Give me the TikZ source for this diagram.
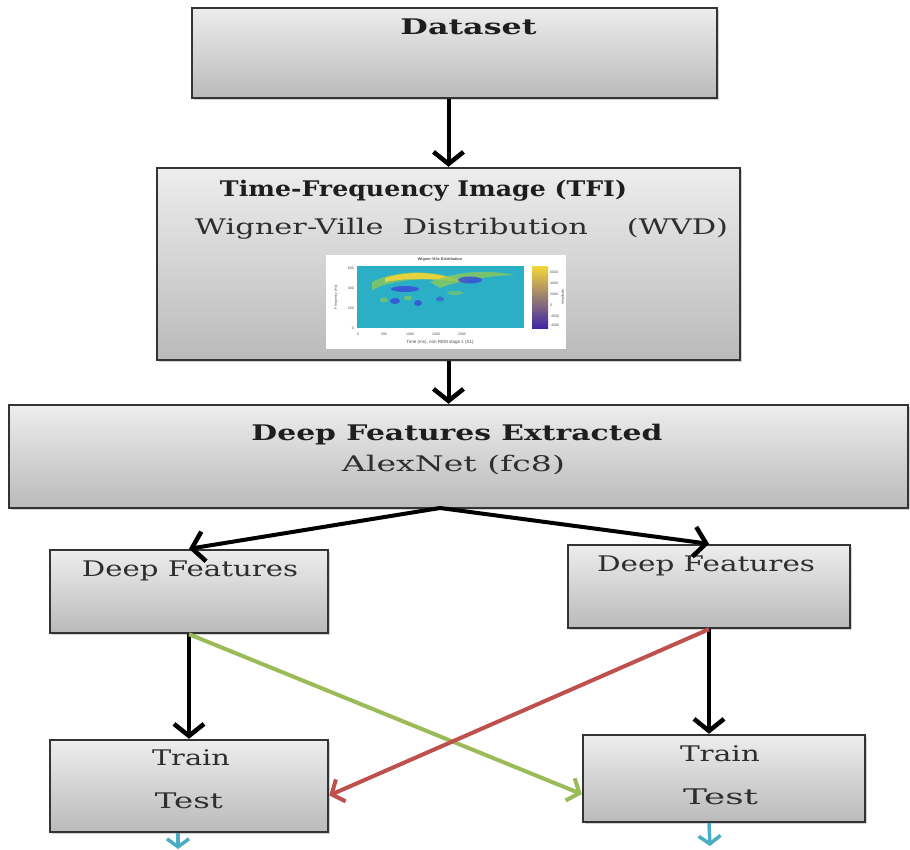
\documentclass[tikz,border=0pt]{standalone}
\usepackage{fontspec}
\usepackage{graphicx}
\setmainfont{DejaVu Serif}
\newfontfamily\camfont{DejaVu Serif}
\newfontfamily\tinyfont{Liberation Sans}
\usetikzlibrary{arrows.meta,shadows,calc}
\newcommand{\wfit}[2]{\resizebox{#1}{\height}{#2}}
\definecolor{txt}{HTML}{1E1E1E}
\definecolor{txtR}{HTML}{2E2E2E}
\definecolor{grnA}{HTML}{9BBB59}
\definecolor{redA}{HTML}{C0504D}
\definecolor{bluA}{HTML}{4BACC6}
\definecolor{parbg}{HTML}{2BAFC6}
\definecolor{parY}{HTML}{F2D43A}
\definecolor{parG}{HTML}{8CC95A}
\definecolor{parB}{HTML}{3A48D8}
\definecolor{parDB}{HTML}{3E26A8}
\tikzset{
  boxA/.style={draw=black!80, line width=2.4pt, top color=white!93!black, bottom color=black!27,
    drop shadow={opacity=0.35, shadow xshift=1.5pt, shadow yshift=-2pt}, inner sep=0pt},
  ttl/.style={font=\camfont\bfseries\fontsize{21.5}{25}\selectfont, text=txt, anchor=base, inner sep=0pt},
  mid/.style={font=\camfont\fontsize{21.5}{25}\selectfont, text=txtR, anchor=base, inner sep=0pt},
  blk/.style={draw=black, line width=4pt, -{Straight Barb[length=12pt,width=30pt,line width=4.5pt]}},
  grnarrow/.style={draw=grnA, line width=4pt, -{Straight Barb[length=10pt,width=24pt,line width=4pt]}},
  redarrow/.style={draw=redA, line width=4pt, -{Straight Barb[length=10pt,width=24pt,line width=4pt]}},
  bluarrow/.style={draw=bluA, line width=3.5pt, -{Straight Barb[length=8pt,width=22pt,line width=3.5pt]}},
  tk/.style={font=\tinyfont\fontsize{3.5}{4}\selectfont, text=black!70, inner sep=0pt},
}
\begin{document}
\begin{tikzpicture}[x=1pt,y=-1pt]
\useasboundingbox (0,0) rectangle (910,850);
% boxes
\node[boxA, minimum width=525pt, minimum height=90pt] (ds) at (454.5,53) {};
\node[boxA, minimum width=583pt, minimum height=192pt] (tfi) at (448.5,264) {};
\node[boxA, minimum width=899pt, minimum height=103pt] (dfe) at (458.5,456.5) {};
\node[boxA, minimum width=278pt, minimum height=83pt] (dfL) at (189,591.5) {};
\node[boxA, minimum width=282pt, minimum height=83pt] (dfR) at (709,586.5) {};
\node[boxA, minimum width=278pt, minimum height=92pt] (ttL) at (189,786) {};
\node[boxA, minimum width=282pt, minimum height=87pt] (ttR) at (724,778.5) {};
% texts
\node[ttl] (dsT) at (468.5,35) {\wfit{136pt}{Dataset}};
\node[ttl] (tfiT) at (423.5,197) {\wfit{407pt}{Time-Frequency Image (TFI)}};
\node[mid] (tfiS) at (461.5,235) {\wfit{533pt}{Wigner-Ville\ \ Distribution\ \ \ \ (WVD)}};
\node[ttl] (dfeT) at (457,440) {\wfit{411pt}{Deep Features Extracted}};
\node[mid] (dfeS) at (453.5,471.5) {\wfit{223pt}{AlexNet (fc8)}};
\node[mid] (dfLT) at (190,576.5) {\wfit{216pt}{Deep Features}};
\node[mid] (dfRT) at (706,571.5) {\wfit{218pt}{Deep Features}};
\node[mid] (ttLa) at (191,765) {\wfit{78pt}{Train}};
\node[mid] (ttLb) at (189,808) {\wfit{68pt}{Test}};
\node[mid] (ttRa) at (720,761.5) {\wfit{80pt}{Train}};
\node[mid] (ttRb) at (720.5,804) {\wfit{75pt}{Test}};
% inset plot
\fill[white] (326,255) rectangle (566,349);
\begin{scope}
\clip (357,266) rectangle (524,328);
\fill[parbg] (357,266) rectangle (524,328);
\fill[parG, opacity=0.8] (372,282) .. controls (400,268) and (440,270) .. (470,284) .. controls (440,278) and (400,276) .. (372,290) -- cycle;
\fill[parY, opacity=0.9] (385,278) .. controls (410,270) and (440,272) .. (462,282) .. controls (440,279) and (410,277) .. (385,282) -- cycle;
\fill[parG, opacity=0.8] (430,282) .. controls (460,270) and (490,270) .. (515,275) .. controls (490,276) and (460,280) .. (440,288) -- cycle;
\fill[parB, opacity=0.8] (470,280) ellipse (12pt and 3.5pt);
\fill[parB, opacity=0.8] (405,289) ellipse (14pt and 3pt);
\fill[parB, opacity=0.8] (395,301) ellipse (5pt and 3pt);
\fill[parB, opacity=0.8] (418,303) ellipse (4pt and 3pt);
\fill[parB, opacity=0.6] (440,299) ellipse (4pt and 2.5pt);
\fill[parG, opacity=0.7] (384,300) ellipse (4pt and 2.5pt);
\fill[parG, opacity=0.7] (408,298) ellipse (4pt and 2.5pt);
\fill[parG, opacity=0.6] (455,293) ellipse (8pt and 2pt);
\end{scope}
\shade[top color=parY, middle color=parbg, bottom color=parDB] (532,267) rectangle (548,328);
\node[tk, font=\tinyfont\bfseries\fontsize{3.8}{4}\selectfont] (plT) at (440,260) {Wigner-Ville Distribution};
\node[tk, font=\tinyfont\fontsize{4.5}{5}\selectfont] (plX) at (440,342) {Time (ms), non REM stage 1 (S1)};
\node[tk, rotate=90] (plY) at (336,297) {Frequency (Hz)};
\node[tk, rotate=90] (plC) at (563,297) {Amplitude};
\foreach \v/\yy [count=\i] in {600/268,400/288,200/308,0/328}{\node[tk, anchor=east] (yt\i) at (354,\yy) {\v};}
\foreach \v/\xx [count=\i] in {0/358,500/384,1000/410,1500/436,2000/462}{\node[tk] (xt\i) at (\xx,334) {\v};}
\foreach \v/\yy [count=\i] in {6000/272,4000/283,2000/294,0/305,-2000/316,-4000/325}{\node[tk, anchor=west] (ct\i) at (550,\yy) {\v};}
% connectors
\draw[blk] (ds.south -| tfi.north) -- (tfi.north);
\draw[blk] (tfi.south) -- (tfi.south |- dfe.north);
\coordinate (split) at (440,508);
\draw[blk] (split) -- (dfL.north);
\draw[blk] (split) -- (dfR.north);
\draw[blk] (dfL.south) -- (dfL.south |- ttL.north);
\draw[blk] (dfR.south) -- (dfR.south |- ttR.north);
\draw[grnarrow] (dfL.south) -- ($(ttR.west)!0.35!(ttR.south west)$);
\draw[redarrow] (dfR.south) -- ($(ttL.east)!0.2!(ttL.south east)$);
\coordinate (bL) at (178,849);
\coordinate (bR) at (710,846);
\draw[bluarrow] (ttL.south -| bL) -- (bL);
\draw[bluarrow] (dfR.south |- ttR.south) -- (bR);
\end{tikzpicture}
\end{document}
